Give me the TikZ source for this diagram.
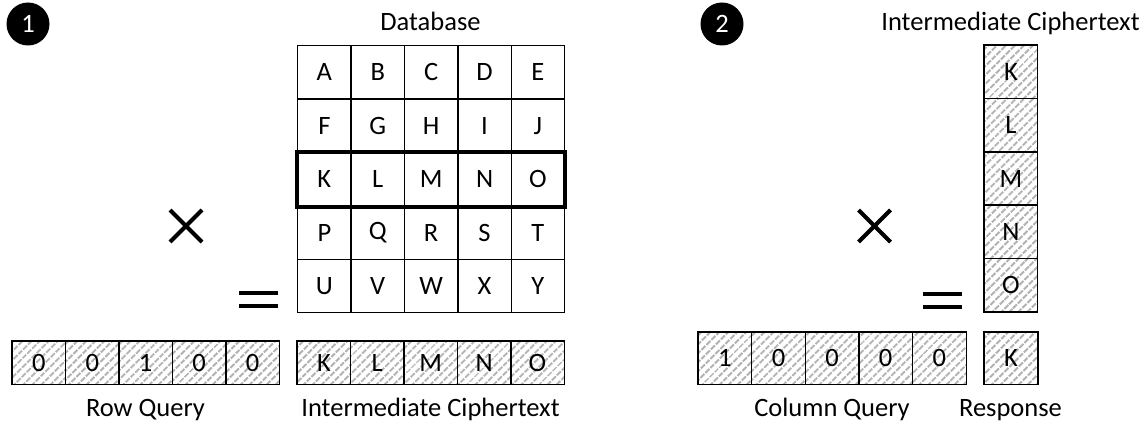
\documentclass[tikz,border=0pt]{standalone}
\usepackage{fontspec}
\setmainfont{Carlito}
\usetikzlibrary{patterns.meta,calc}
\begin{document}
\begin{tikzpicture}[x=1pt,y=-1pt,
  font=\fontsize{26.5pt}{30pt}\selectfont,
  cell/.style={inner sep=0pt, anchor=north west,
    minimum width=53.4pt, minimum height=53.4pt},
  flat/.style={minimum height=43pt},
  hatched/.style={pattern={Lines[angle=45,distance=6.4pt,line width=2.4pt]},
    pattern color=black!30},
  border/.style={draw, line width=1.3pt},
  badge/.style={circle, fill=black, text=white, minimum size=43pt, inner sep=0pt},
  caption/.style={inner sep=0pt, anchor=base},
  op/.style={line width=4pt},
]
\useasboundingbox (0,0) rectangle (1146,425);
% declare the stripe pattern once, on an empty area, before any cell uses it
\begin{scope}
  \path[hatched] (0,0) rectangle (0,0);
\end{scope}

% step badges
\node[badge] (n1) at (28,24) {1};
\node[badge] (n2) at (722,24) {2};

% database grid
\node[caption] (dbtitle) at (430.5,31) {Database};
\foreach \l [count=\i from 0] in {A,B,C,D,E,F,G,H,I,J,K,L,M,N,O,P,Q,R,S,T,U,V,W,X,Y} {
  \pgfmathtruncatemacro{\c}{mod(\i,5)}
  \pgfmathtruncatemacro{\r}{int(\i/5)}
  \node[cell, border] (d\l) at ({297+53.4*\c},{45+53.4*\r}) {\l};
}
\draw[line width=4pt] (dK.north west) rectangle (dO.south east);

% row query and first intermediate ciphertext
\foreach \v [count=\i from 0] in {0,0,1,0,0}
  \node[cell, flat, hatched] (rq\i) at ({12+53.4*\i},341) {\v};
\foreach \v [count=\i from 0] in {K,L,M,N,O}
  \node[cell, flat, hatched] (ct\i) at ({297+53.4*\i},341) {\v};
\foreach \i in {0,...,4} {
  \draw[border] (rq\i.north west) rectangle (rq\i.south east);
  \draw[border] (ct\i.north west) rectangle (ct\i.south east);
}
\node[caption] (rqlab) at (145.5,416) {Row Query};
\node[caption] (ctlab) at (430.5,416) {Intermediate Ciphertext};

% operators, step 1
\coordinate (x1) at (186,226);
\draw[op] ($(x1)+(-16,-16)$) -- ($(x1)+(16,16)$);
\draw[op] ($(x1)+(-16,16)$) -- ($(x1)+(16,-16)$);
\coordinate (e1) at (258.5,299.5);
\draw[op] ($(e1)+(-19.5,-6.5)$) -- ($(e1)+(19.5,-6.5)$);
\draw[op] ($(e1)+(-19.5,6.5)$) -- ($(e1)+(19.5,6.5)$);

% step 2: intermediate ciphertext as a column
\node[caption] (vtitle) at (1010.5,31) {Intermediate Ciphertext};
\foreach \v [count=\i from 0] in {K,L,M,N,O}
  \node[cell, hatched] (v\i) at (984,{45+53.3*\i}) {\v};

% column query and response
\foreach \v [count=\i from 0] in {1,0,0,0,0}
  \node[cell, hatched, minimum height=52pt] (cq\i) at ({698+53.6*\i},332) {\v};
\node[cell, hatched, minimum height=52pt, minimum width=53.6pt] (resp) at (984,332) {K};
\foreach \i in {0,...,4} {
  \draw[border] (v\i.north west) rectangle (v\i.south east);
  \draw[border] (cq\i.north west) rectangle (cq\i.south east);
}
\draw[border] (resp.north west) rectangle (resp.south east);
\node[caption] (cqlab) at (832,416) {Column Query};
\node[caption] (resplab) at (1010.5,416) {Response};

% operators, step 2
\coordinate (x2) at (874.5,226);
\draw[op] ($(x2)+(-16,-16)$) -- ($(x2)+(16,16)$);
\draw[op] ($(x2)+(-16,16)$) -- ($(x2)+(16,-16)$);
\coordinate (e2) at (942.5,300);
\draw[op] ($(e2)+(-19.5,-6.5)$) -- ($(e2)+(19.5,-6.5)$);
\draw[op] ($(e2)+(-19.5,6.5)$) -- ($(e2)+(19.5,6.5)$);
\end{tikzpicture}
\end{document}
